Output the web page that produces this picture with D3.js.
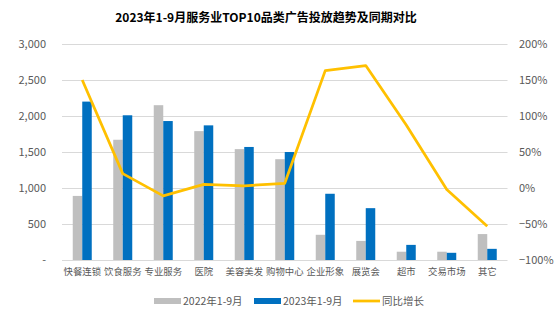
<!DOCTYPE html>
<html><head><meta charset="utf-8">
<script src="https://cdn.jsdelivr.net/npm/d3@7/dist/d3.min.js"></script>
<style>body{margin:0;background:#fff}svg{display:block;font-family:"Noto Sans CJK SC","Noto Sans",sans-serif}</style>
</head><body><svg id="c" width="560" height="323"></svg>
<script>
const categories = ["快餐连锁","饮食服务","专业服务","医院","美容美发","购物中心","企业形象","展览会","超市","交易市场","其它"];
const values2022 = [890,1670,2150,1790,1540,1400,350,265,115,115,360];
const values2023 = [2200,2010,1930,1870,1570,1500,920,720,210,100,155];
const growth = [1.50,0.20,-0.11,0.05,0.03,0.065,1.63,1.70,0.875,-0.02,-0.53];
const leftTicks = [0,500,1000,1500,2000,2500,3000];
const rightTicks = [-1,-0.5,0,0.5,1,1.5,2];
const seriesNames = ["2022年1-9月","2023年1-9月","同比增长"];
const title = "2023年1-9月服务业TOP10品类广告投放趋势及同期对比";

const svg = d3.select("#c");
const L=62, R=507.5, T=44, B=260;
const x = d3.scaleBand().domain(categories).range([L,R]);
const yL = d3.scaleLinear().domain([0,3000]).range([B,T]);
const yR = d3.scaleLinear().domain([-1,2]).range([B,T]);

svg.append("text").attr("x",266).attr("y",22).attr("text-anchor","middle")
  .attr("font-size",12).attr("font-weight","bold").attr("fill","#000").text(title);

svg.append("g").selectAll("line").data(leftTicks).join("line")
  .attr("x1",L).attr("x2",R).attr("y1",d=>yL(d)+0.5).attr("y2",d=>yL(d)+0.5)
  .attr("stroke","#d9d9d9").attr("stroke-width",1);

const fmt = d => d===0 ? "-" : d3.format(",")(d);
const gl = svg.append("g").attr("transform",`translate(46,0)`)
  .call(d3.axisLeft(yL).tickValues(leftTicks).tickFormat(fmt).tickSize(0).tickPadding(0));
gl.select(".domain").remove();
gl.selectAll("text").attr("font-size",11).attr("fill","#595959").attr("font-family","'Noto Sans CJK SC',sans-serif");

const gr = svg.append("g").attr("transform",`translate(519,0)`)
  .call(d3.axisRight(yR).tickValues(rightTicks).tickFormat(d3.format(".0%")).tickSize(0).tickPadding(0));
gr.select(".domain").remove();
gr.selectAll("text").attr("font-size",11).attr("fill","#595959").attr("font-family","'Noto Sans CJK SC',sans-serif");

const gx = svg.append("g").attr("transform",`translate(0,${B+6})`)
  .call(d3.axisBottom(x).tickSize(0).tickPadding(0));
gx.select(".domain").remove();
gx.selectAll("text").attr("font-size",9.4).attr("fill","#595959").attr("dy","0.95em").attr("font-family","'Noto Sans CJK SC',sans-serif");

const bw = 9.5;
const grp = svg.append("g");
grp.selectAll("rect.a").data(categories).join("rect").attr("class","a")
  .attr("x",d=>x(d)+x.bandwidth()/2-bw).attr("width",bw)
  .attr("y",(d,i)=>yL(values2022[i])).attr("height",(d,i)=>B-yL(values2022[i]))
  .attr("fill","#BFBFBF");
grp.selectAll("rect.b").data(categories).join("rect").attr("class","b")
  .attr("x",d=>x(d)+x.bandwidth()/2).attr("width",bw)
  .attr("y",(d,i)=>yL(values2023[i])).attr("height",(d,i)=>B-yL(values2023[i]))
  .attr("fill","#0070C0");

const line = d3.line().x((d,i)=>x(categories[i])+x.bandwidth()/2).y(d=>yR(d));
svg.append("path").datum(growth).attr("d",line).attr("fill","none")
  .attr("stroke","#FFC000").attr("stroke-width",2.75).attr("stroke-linejoin","round");

const lg = svg.append("g").attr("font-size",10.5).attr("fill","#595959");
const items = [{x:154,c:"#BFBFBF",t:"bar"},{x:254,c:"#0070C0",t:"bar"},{x:353,c:"#FFC000",t:"line"}];
items.forEach((it,i)=>{
  if(it.t==="bar") lg.append("rect").attr("x",it.x).attr("y",298).attr("width",27).attr("height",6).attr("fill",it.c);
  else lg.append("line").attr("x1",it.x).attr("x2",it.x+27).attr("y1",301).attr("y2",301).attr("stroke",it.c).attr("stroke-width",2.75);
  lg.append("text").attr("x",it.x+29).attr("y",301).attr("dy","0.35em").attr("fill","#595959").text(seriesNames[i]);
});
</script></body></html>
